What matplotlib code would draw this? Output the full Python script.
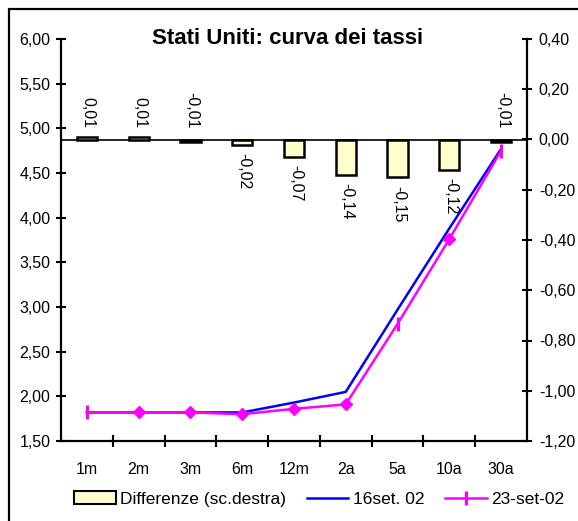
import matplotlib.pyplot as plt
from matplotlib.patches import Rectangle, Patch
from matplotlib.lines import Line2D

plt.rcParams['font.family'] = ['Liberation Sans', 'DejaVu Sans']

categories = ['1m', '2m', '3m', '6m', '12m', '2a', '5a', '10a', '30a']
rate_16set = [1.82, 1.82, 1.82, 1.82, 1.93, 2.05, 2.97, 3.88, 4.77]
rate_23set = [1.82, 1.82, 1.82, 1.80, 1.86, 1.91, 2.81, 3.76, 4.75]
differenze = [0.01, 0.01, -0.01, -0.02, -0.07, -0.14, -0.15, -0.12, -0.01]

# marker usato per ogni punto della serie 23-set-02
mag_markers = ['|', 'D', 'D', 'D', 'D', 'D', '|', 'D', '|']

W, H = 578, 521
fig = plt.figure(figsize=(W / 100, H / 100), dpi=100)
ax = fig.add_axes([61 / W, 1 - 441 / H, (527 - 61) / W, (441 - 39) / H])
ax2 = ax.twinx()
ax.set_zorder(ax2.get_zorder() + 1)
ax.patch.set_visible(False)

x = list(range(len(categories)))

# barre differenze (scala destra)
ax2.bar(x, differenze, width=0.39, color='#ffffcc', edgecolor='black', linewidth=1.8, zorder=2)
ax2.axhline(0, color='black', lw=1.2, zorder=1)
for xi, d in zip(x, differenze):
    lab = ('%.2f' % d).replace('.', ',')
    if d >= -0.01:
        # etichette sopra l'asse per le barre quasi nulle
        ax2.annotate(lab, (xi, 0), xytext=(1, 8), textcoords='offset points',
                     rotation=270, ha='center', va='bottom', fontsize=11.5)
    else:
        ax2.annotate(lab, (xi, d), xytext=(1, -6), textcoords='offset points',
                     rotation=270, ha='center', va='top', fontsize=11.5)

# curve dei tassi (scala sinistra)
ax.plot(x, rate_16set, color='#0000ff', lw=1.8, zorder=3)
ax.plot(x, rate_23set, color='#ff00ff', lw=1.8, zorder=4)
for xi, v, m in zip(x, rate_23set, mag_markers):
    if m == '|':
        ax.plot(xi, v, marker='|', color='#ff00ff', ms=10, mew=2.2, zorder=5)
    else:
        ax.plot(xi, v, marker='D', color='#ff00ff', ms=6, mew=1, zorder=5)

ax.set_xlim(-0.5, len(categories) - 0.5)
ax.set_ylim(1.5, 6.0)
ax2.set_ylim(-1.2, 0.4)

ax.set_yticks([1.5 + 0.5 * i for i in range(10)])
ax.set_yticklabels([('%.2f' % (1.5 + 0.5 * i)).replace('.', ',') for i in range(10)])
ax2.set_yticks([-1.2 + 0.2 * i for i in range(9)])
ax2.set_yticklabels([('%.2f' % (-1.2 + 0.2 * i)).replace('.', ',').replace('-0,00', '0,00') for i in range(9)])

ax.set_xticks(x)
ax.set_xticklabels(categories)
ax.set_xticks([i + 0.5 for i in range(len(categories) - 1)], minor=True)
ax.tick_params(axis='x', which='major', length=0, pad=15, labelsize=11.5)
ax.tick_params(axis='x', which='minor', length=9, width=1.5, direction='inout')
ax.tick_params(axis='y', length=7, width=1.5, direction='inout', pad=4, labelsize=11.5)
ax2.tick_params(axis='y', length=7, width=1.5, direction='inout', pad=5, labelsize=11.5)

for a in (ax, ax2):
    a.spines['top'].set_visible(False)
    for s in ('left', 'right', 'bottom'):
        a.spines[s].set_linewidth(1.6)
ax.spines['right'].set_visible(False)
ax2.spines['left'].set_visible(False)
ax2.spines['bottom'].set_visible(False)

fig.text(0.497, 1 - 38 / H, 'Stati Uniti: curva dei tassi', ha='center', va='center',
         fontsize=16, fontweight='bold')

handles = [
    Patch(facecolor='#ffffcc', edgecolor='black', linewidth=1.5),
    Line2D([], [], color='#0000ff', lw=1.8),
    Line2D([], [], color='#ff00ff', lw=1.8, marker='|', ms=10, mew=2.2),
]
fig.legend(handles, ['Differenze (sc.destra)', '16set. 02', '23-set-02'],
           loc='center', bbox_to_anchor=(0.552, 1 - 499 / H), ncol=3, frameon=False,
           fontsize=12.5, handlelength=2.4, handletextpad=0.25, columnspacing=1.2,
           handleheight=0.8)

fig.patches.append(Rectangle((9 / W, -0.1), 1.2, 1 - 9 / H + 0.1, transform=fig.transFigure,
                             fill=False, edgecolor='black', linewidth=1.6))

fig.savefig('out.png', dpi=100)
